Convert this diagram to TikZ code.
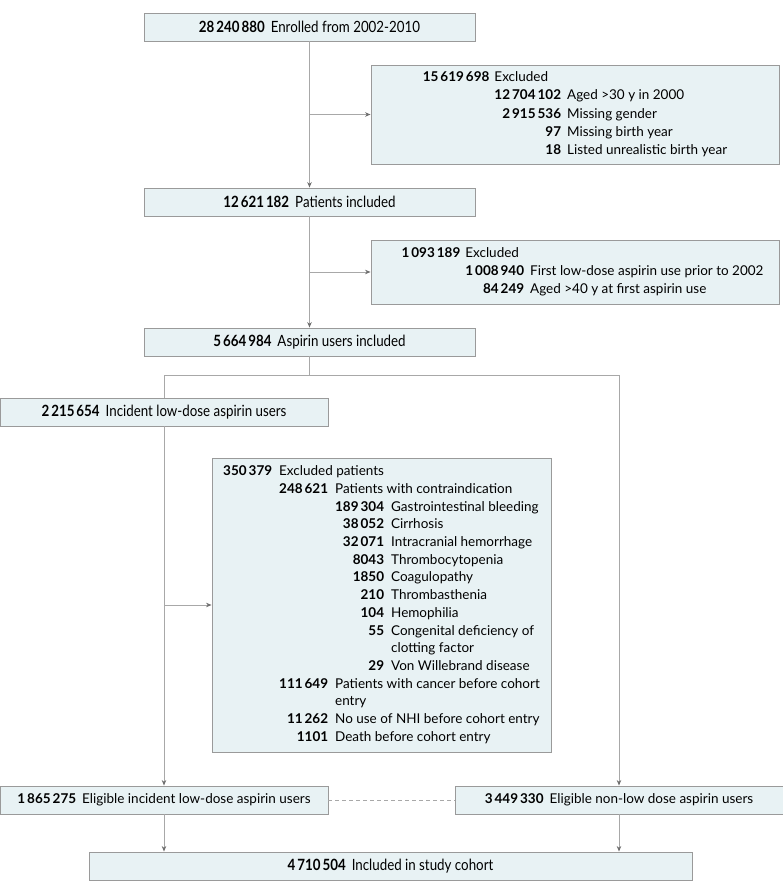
\documentclass[tikz,border=0pt]{standalone}
\usepackage{fontspec}
\setmainfont{Lato}
\newfontfamily\narrowfont[FakeStretch=0.86]{Lato}
\usetikzlibrary{arrows.meta,calc}
\definecolor{boxfill}{HTML}{E8F2F4}
\definecolor{boxline}{HTML}{9A9A9A}
\definecolor{linkgray}{HTML}{A8A8A8}
\definecolor{tipgray}{HTML}{6E6E6E}
\newcommand{\cnt}[1]{\textbf{#1}}
\newcommand{\gsp}{\hspace{2pt}}

\begin{document}
\begin{tikzpicture}[x=1pt, y=-1pt, >={Stealth[length=5.5pt,width=4.5pt,color=tipgray]},
    flowbox/.style={draw=boxline, fill=boxfill, line width=0.9pt, inner sep=0pt, minimum height=28pt},
    mainbox/.style={flowbox, font=\narrowfont\fontsize{15.5}{18}\selectfont},
    sidebox/.style={flowbox, font=\fontsize{13.5}{16}\selectfont},
    exclbox/.style={flowbox, font=\fontsize{13.5}{18.3}\selectfont},
    link/.style={draw=linkgray, line width=0.9pt}]
    \useasboundingbox (0,0) rectangle (783,893);

    % main column
    \node[mainbox, minimum width=331pt] (enrolled) at (309.5,27)
        {\cnt{28\gsp240\gsp880}\hspace{6pt}Enrolled from 2002-2010};
    \node[mainbox, minimum width=331pt] (included) at (309.5,202)
        {\cnt{12\gsp621\gsp182}\hspace{6pt}Patients included};
    \node[mainbox, minimum width=331pt] (users) at (309.5,342)
        {\cnt{5\gsp664\gsp984}\hspace{6pt}Aspirin users included};
    \node[mainbox, minimum width=328pt] (incident) at (164,412)
        {\cnt{2\gsp215\gsp654}\hspace{6pt}Incident low-dose aspirin users};

    % exclusions
    \node[exclbox, minimum width=408pt, minimum height=99pt] (excl1) at (575,114.5) {%
        \begin{tabular}{@{}r@{\hspace{5pt}}r@{\hspace{6pt}}l@{}}
            \cnt{15\gsp619\gsp698} & \multicolumn{2}{@{}l@{}}{Excluded}\\
            & \cnt{12\gsp704\gsp102} & Aged >30 y in 2000\\
            & \cnt{2\gsp915\gsp536} & Missing gender\\
            & \cnt{97} & Missing birth year\\
            & \cnt{18} & Listed unrealistic birth year\\
        \end{tabular}};
    \node[exclbox, minimum width=408pt, minimum height=64pt] (excl2) at (575,272) {%
        \begin{tabular}{@{\hspace{15pt}}r@{\hspace{5pt}}r@{\hspace{6pt}}l@{}}
            \cnt{1\gsp093\gsp189} & \multicolumn{2}{@{}l@{}}{Excluded}\\
            & \cnt{1\gsp008\gsp940} & First low-dose aspirin use prior to 2002\\
            & \cnt{84\gsp249} & Aged >40 y at first aspirin use\\
        \end{tabular}};
    \node[exclbox, font=\fontsize{13.5}{17.7}\selectfont, minimum width=339pt, minimum height=294pt] (exclpat) at (381.5,605) {%
        \begin{tabular}{@{}r@{\hspace{7pt}}r@{\hspace{7pt}}r@{\hspace{7pt}}l@{}}
            \cnt{350\gsp379} & \multicolumn{3}{@{}l@{}}{Excluded patients}\\
            & \cnt{248\gsp621} & \multicolumn{2}{@{}l@{}}{Patients with contraindication}\\
            & & \cnt{189\gsp304} & Gastrointestinal bleeding\\
            & & \cnt{38\gsp052} & Cirrhosis\\
            & & \cnt{32\gsp071} & Intracranial hemorrhage\\
            & & \cnt{8043} & Thrombocytopenia\\
            & & \cnt{1850} & Coagulopathy\\
            & & \cnt{210} & Thrombasthenia\\
            & & \cnt{104} & Hemophilia\\
            & & \cnt{55} & Congenital deficiency of\\
            & & & clotting factor\\
            & & \cnt{29} & Von Willebrand disease\\
            & \cnt{111\gsp649} & \multicolumn{2}{@{}l@{}}{Patients with cancer before cohort}\\
            & & \multicolumn{2}{@{}l@{}}{entry}\\
            & \cnt{11\gsp262} & \multicolumn{2}{@{}l@{}}{No use of NHI before cohort entry}\\
            & \cnt{1101} & \multicolumn{2}{@{}l@{}}{Death before cohort entry}\\
        \end{tabular}};

    % eligible groups and cohort
    \node[sidebox, minimum width=328pt] (eliginc) at (164,800)
        {\cnt{1\gsp865\gsp275}\hspace{6pt}Eligible incident low-dose aspirin users};
    \node[sidebox, minimum width=328pt] (elignon) at (619,800)
        {\cnt{3\gsp449\gsp330}\hspace{6pt}Eligible non-low dose aspirin users};
    \node[mainbox, minimum width=603pt] (cohort) at (390.5,866)
        {\cnt{4\gsp710\gsp504}\hspace{6pt}Included in study cohort};

    \coordinate (split) at (309.5,375);

    \draw[link, ->] (enrolled) -- (included);
    \draw[link, ->] (enrolled.south |- excl1.west) -- (excl1.west);
    \draw[link, ->] (included) -- (users);
    \draw[link, ->] (included.south |- excl2.west) -- (excl2.west);
    \draw[link] (users) -- (split);
    \draw[link, ->] (incident.north) |- (split -| elignon.north) -- (elignon.north);
    \draw[link, ->] (incident) -- (eliginc);
    \draw[link, ->] (incident.south |- exclpat.west) -- (exclpat.west);
    \draw[link, dash pattern=on 4pt off 3pt] (eliginc) -- (elignon);
    \draw[link, ->] (eliginc) -- (eliginc.south |- cohort.north);
    \draw[link, ->] (elignon) -- (elignon.south |- cohort.north);
\end{tikzpicture}
\end{document}
